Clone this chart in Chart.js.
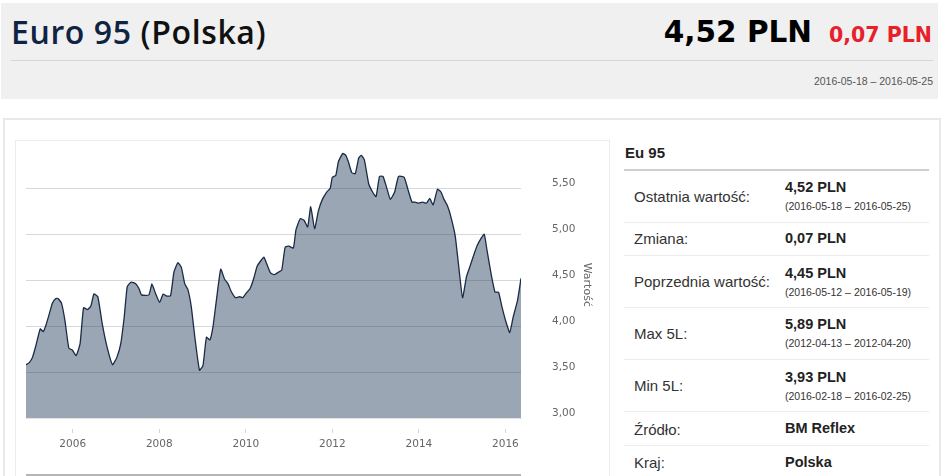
<!DOCTYPE html>
<html>
<head>
<meta charset="utf-8">
<script src="https://cdn.jsdelivr.net/npm/chart.js@4.4.1/dist/chart.umd.min.js"></script>
<style>
  body { margin: 0; background: #fff; width: 945px; height: 476px; overflow: hidden; position: relative; font-family: "Liberation Sans", Arial, sans-serif; }
  .abs { position: absolute; white-space: nowrap; }
  #head { left: 1px; top: 3px; width: 937px; height: 96px; background: #f0f0f0; }
  #title { left: 11px; top: 12px; font-family: "Open Sans", sans-serif; font-size: 32px; letter-spacing: 0.6px; line-height: 40px; color: #0f2343; font-weight: 600; }
  #title span { color: #111; }
  #price { right: 133px; top: 12px; font-family: "DejaVu Sans", sans-serif; font-weight: bold; font-size: 29.5px; line-height: 40px; color: #000; }
  #change { right: 13px; top: 21px; font-family: "DejaVu Sans", sans-serif; font-weight: bold; font-size: 20.5px; line-height: 28px; color: #e8202a; }
  #hline { left: 11px; top: 60px; width: 922px; height: 1px; background: #d6d6d6; }
  #hdate { right: 12px; top: 74px; font-size: 10.5px; line-height: 14px; color: #555; }
  #box { left: 3px; top: 118px; width: 934px; height: 370px; border: 2px solid #e8e8e8; }
  #frame { left: 15px; top: 140px; width: 593px; height: 340px; border: 1px solid #ececec; }
  #wrap { left: 16px; top: 141px; width: 592px; height: 335px; }
  #navline { left: 26px; top: 474px; width: 495px; height: 2px; background: #b5b5b5; }
  #eu { left: 625px; top: 144px; font-weight: bold; font-size: 15px; line-height: 18px; color: #222; }
  #eul { left: 624px; top: 169px; width: 305px; height: 2px; background: #cfcfcf; }
  .sep { left: 624px; width: 305px; height: 1px; background: #ececec; }
  .lab { left: 634px; font-size: 15px; line-height: 18px; color: #333; }
  .val { left: 785px; font-size: 14.5px; line-height: 18px; color: #222; font-weight: bold; }
  .dt { left: 785px; font-size: 10.5px; line-height: 14px; color: #333; }
</style>
</head>
<body>
<div class="abs" id="head"></div>
<div class="abs" id="title">Euro 95 <span>(Polska)</span></div>
<div class="abs" id="price">4,52 PLN</div>
<div class="abs" id="change">0,07 PLN</div>
<div class="abs" id="hline"></div>
<div class="abs" id="hdate">2016-05-18 – 2016-05-25</div>

<div class="abs" id="box"></div>
<div class="abs" id="frame"></div>
<div class="abs" id="wrap"><canvas id="fuelChart"></canvas></div>
<div class="abs" id="navline"></div>

<div class="abs" id="eu">Eu 95</div>
<div class="abs" id="eul"></div>

<div class="abs lab" style="top:188px">Ostatnia wartość:</div>
<div class="abs val" style="top:178px">4,52 PLN</div>
<div class="abs dt" style="top:199px">(2016-05-18 – 2016-05-25)</div>
<div class="abs sep" style="top:222px"></div>

<div class="abs lab" style="top:230px">Zmiana:</div>
<div class="abs val" style="top:229px">0,07 PLN</div>
<div class="abs sep" style="top:255px"></div>

<div class="abs lab" style="top:273px">Poprzednia wartość:</div>
<div class="abs val" style="top:264px">4,45 PLN</div>
<div class="abs dt" style="top:285px">(2016-05-12 – 2016-05-19)</div>
<div class="abs sep" style="top:307px"></div>

<div class="abs lab" style="top:325px">Max 5L:</div>
<div class="abs val" style="top:315px">5,89 PLN</div>
<div class="abs dt" style="top:336px">(2012-04-13 – 2012-04-20)</div>
<div class="abs sep" style="top:359px"></div>

<div class="abs lab" style="top:377px">Min 5L:</div>
<div class="abs val" style="top:368px">3,93 PLN</div>
<div class="abs dt" style="top:389px">(2016-02-18 – 2016-02-25)</div>
<div class="abs sep" style="top:411px"></div>

<div class="abs lab" style="top:421px">Źródło:</div>
<div class="abs val" style="top:419px">BM Reflex</div>
<div class="abs sep" style="top:445px"></div>

<div class="abs lab" style="top:454px">Kraj:</div>
<div class="abs val" style="top:453px">Polska</div>

<script>
// weekly prices (decimal year -> PLN/l)
var years = [
    2004.92, 2004.99, 2005.07, 2005.15, 2005.25, 2005.32, 2005.38, 2005.45, 2005.53, 2005.61,
    2005.66, 2005.74, 2005.82, 2005.91, 2005.99, 2006.08, 2006.17, 2006.25, 2006.34, 2006.42,
    2006.49, 2006.58, 2006.68, 2006.80, 2006.92, 2007.02, 2007.11, 2007.19, 2007.26, 2007.35,
    2007.46, 2007.53, 2007.59, 2007.76, 2007.83, 2007.91, 2008.01, 2008.09, 2008.16, 2008.26,
    2008.34, 2008.43, 2008.51, 2008.59, 2008.66, 2008.74, 2008.83, 2008.93, 2009.01, 2009.09,
    2009.17, 2009.24, 2009.32, 2009.42, 2009.51, 2009.59, 2009.66, 2009.76, 2009.86, 2009.93,
    2010.01, 2010.10, 2010.19, 2010.26, 2010.36, 2010.42, 2010.49, 2010.57, 2010.66, 2010.76,
    2010.83, 2010.91, 2011.00, 2011.10, 2011.16, 2011.26, 2011.35, 2011.43, 2011.50, 2011.59,
    2011.68, 2011.77, 2011.87, 2011.95, 2012.00, 2012.08, 2012.14, 2012.24, 2012.31, 2012.37,
    2012.45, 2012.53, 2012.61, 2012.67, 2012.74, 2012.84, 2012.93, 2013.01, 2013.09, 2013.17,
    2013.26, 2013.34, 2013.44, 2013.53, 2013.66, 2013.74, 2013.84, 2013.91, 2014.00, 2014.08,
    2014.18, 2014.25, 2014.33, 2014.43, 2014.51, 2014.58, 2014.66, 2014.74, 2014.84, 2014.93,
    2015.01, 2015.10, 2015.18, 2015.28, 2015.35, 2015.43, 2015.51, 2015.58, 2015.68, 2015.76,
    2015.84, 2015.92, 2016.01, 2016.10, 2016.18, 2016.28, 2016.36
];
var prices = [
    3.58, 3.60, 3.66, 3.79, 3.97, 3.94, 4.01, 4.12, 4.25, 4.30,
    4.30, 4.25, 4.06, 3.76, 3.74, 3.68, 3.81, 4.20, 4.18, 4.22,
    4.35, 4.32, 4.03, 3.76, 3.58, 3.66, 3.81, 4.10, 4.43, 4.48,
    4.46, 4.41, 4.34, 4.34, 4.46, 4.36, 4.26, 4.35, 4.33, 4.33,
    4.59, 4.69, 4.64, 4.46, 4.40, 4.21, 3.85, 3.52, 3.57, 3.88,
    3.85, 3.99, 4.28, 4.62, 4.51, 4.46, 4.38, 4.31, 4.32, 4.31,
    4.36, 4.41, 4.53, 4.65, 4.72, 4.75, 4.67, 4.58, 4.56, 4.59,
    4.61, 4.86, 4.87, 4.85, 5.05, 5.17, 5.15, 5.08, 5.30, 5.06,
    5.26, 5.38, 5.46, 5.50, 5.62, 5.64, 5.79, 5.88, 5.86, 5.79,
    5.67, 5.66, 5.83, 5.86, 5.81, 5.55, 5.46, 5.41, 5.63, 5.63,
    5.50, 5.38, 5.46, 5.63, 5.62, 5.50, 5.35, 5.35, 5.34, 5.35,
    5.34, 5.39, 5.32, 5.49, 5.46, 5.38, 5.31, 5.19, 4.98, 4.61,
    4.31, 4.54, 4.65, 4.79, 4.88, 4.95, 5.00, 4.81, 4.54, 4.37,
    4.37, 4.21, 4.05, 3.93, 4.10, 4.28, 4.52
];
var yTicks = [3.0, 3.5, 4.0, 4.5, 5.0, 5.5];
var xStart = 2004.92, xEnd = 2016.36;

var points = years.map(function (y, i) {
    return { x: y, y: prices[i] };
});

var ctx = document.getElementById("fuelChart").getContext("2d");
var fuelChart = new Chart(ctx, {
    type: 'line',
    data: {
        datasets: [{
            label: 'Eu 95',
            data: points,
            borderColor: '#1a2b45',
            borderWidth: 1.3,
            backgroundColor: 'rgba(33,57,88,0.45)',
            fill: 'start',
            pointRadius: 0,
            tension: 0.15
        }]
    },
    options: {
        responsive: true,
        maintainAspectRatio: false,
        animation: false,
        layout: { padding: { left: 10, right: 11, top: 10.6, bottom: 22 } },
        plugins: {
            legend: { display: false },
            tooltip: { enabled: false }
        },
        scales: {
            x: {
                type: 'linear',
                min: xStart,
                max: xEnd,
                afterFit: function (scale) { scale.height = 36; },
                grid: {
                    drawOnChartArea: false,
                    tickLength: 15,
                    tickColor: '#ccd6eb',
                    tickBorderDash: [0, 10, 5, 40]
                },
                border: { color: '#e4e4e4' },
                ticks: {
                    stepSize: 2,
                    includeBounds: false,
                    padding: 5,
                    maxRotation: 0,
                    color: '#666',
                    font: { family: 'DejaVu Sans', size: 10.5 },
                    callback: function (v) { return String(v); }
                }
            },
            y: {
                position: 'right',
                min: 3,
                max: 5.9,
                afterFit: function (scale) { scale.width = 76; },
                afterBuildTicks: function (scale) {
                    scale.ticks = yTicks.map(function (v) { return { value: v }; });
                },
                // invisible tick marks push the labels away from the plot
                grid: { color: '#d8d8d8', tickLength: 28, tickColor: 'rgba(0,0,0,0)' },
                border: { display: false },
                ticks: {
                    padding: 3,
                    labelOffset: -5,
                    color: '#666',
                    font: { family: 'DejaVu Sans', size: 10.5 },
                    callback: function (v) { return v.toFixed(2).replace('.', ','); }
                },
                title: {
                    display: true,
                    text: 'Wartość',
                    color: '#666',
                    padding: 4,
                    font: { family: 'DejaVu Sans', size: 11 }
                }
            }
        }
    }
});
</script>
</body>
</html>
